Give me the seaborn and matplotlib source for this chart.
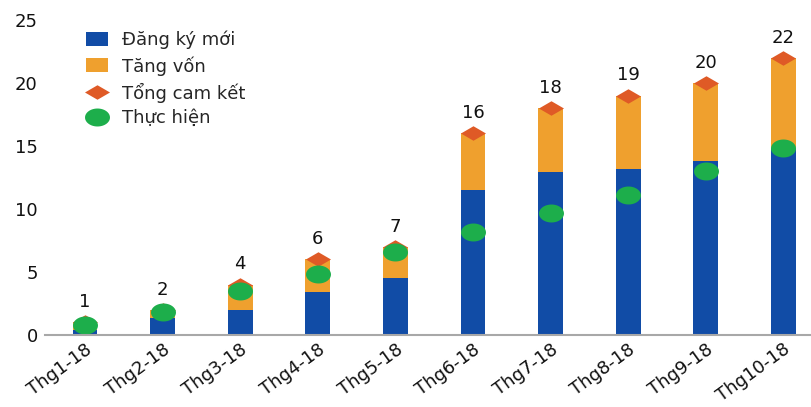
import numpy as np
import pandas as pd
import matplotlib
matplotlib.use("Agg")
import matplotlib.pyplot as plt
import seaborn as sns
from matplotlib.lines import Line2D
from matplotlib.patches import Patch

# Monthly FDI figures, 2018 (billion USD)
months = ["Thg1-18", "Thg2-18", "Thg3-18", "Thg4-18", "Thg5-18",
          "Thg6-18", "Thg7-18", "Thg8-18", "Thg9-18", "Thg10-18"]
new_reg = [0.4, 1.35, 2.0, 3.4, 4.5, 11.5, 12.9, 13.2, 13.8, 14.8]
total_commit = [1, 2, 4, 6, 7, 16, 18, 19, 20, 22]
disbursed = [0.8, 1.8, 3.5, 4.8, 6.6, 8.2, 9.7, 11.1, 13.0, 14.8]
yticks = [0, 5, 10, 15, 20, 25]

BLUE = "#114CA6"
ORANGE = "#EFA02E"
RED = "#DF5A26"
GREEN = "#1DAE4B"

sns.set_theme(style="white")
plt.rcParams["font.family"] = ["DejaVu Sans"]

df = pd.DataFrame({"month": months, "new": new_reg, "total": total_commit,
                   "disb": disbursed})

fig = plt.figure(figsize=(8.12, 4.07), dpi=100)
ax = fig.add_axes([0.055, 0.177, 0.945, 0.774])

# Stacked look: full commitment bar in orange, new registrations on top in blue
sns.barplot(data=df, x="month", y="total", color=ORANGE, width=0.32,
            saturation=1, ax=ax, linewidth=0)
sns.barplot(data=df, x="month", y="new", color=BLUE, width=0.32,
            saturation=1, ax=ax, linewidth=0)

# Wide marker shapes
wide_diamond = [(-1, 0), (0, 0.58), (1, 0), (0, -0.58), (-1, 0)]
t = np.linspace(0, 2 * np.pi, 40)
wide_dot = np.column_stack([np.cos(t), 0.72 * np.sin(t)])

pos = np.arange(len(months))
ax.plot(pos, df["total"], linestyle="none", marker=wide_diamond,
        markersize=18, color=RED, markeredgewidth=0)
ax.plot(pos, df["disb"], linestyle="none", marker=wide_dot, markersize=18,
        color=GREEN, markeredgewidth=0)

for x, v in zip(pos, df["total"]):
    ax.annotate(f"{v:g}", (x, v), xytext=(0, 8), textcoords="offset points",
                ha="center", va="bottom", fontsize=13, color="#111111")

ax.set_ylim(0, 25)
ax.set_xlim(-0.52, 9.37)
ax.set_yticks(yticks)
ax.set_yticklabels([str(t) for t in yticks], fontsize=13, color="#111111")
ax.set_xlabel("")
ax.set_ylabel("")
ax.tick_params(axis="y", length=0, pad=5)
ax.tick_params(axis="x", length=0, pad=4)
plt.setp(ax.get_xticklabels(), rotation=36, ha="right",
         rotation_mode="anchor", fontsize=13, color="#111111")

for s in ["top", "right", "left"]:
    ax.spines[s].set_visible(False)
ax.spines["bottom"].set_color("#A8A8A8")
ax.spines["bottom"].set_linewidth(1.5)

handles = [
    Patch(facecolor=BLUE, edgecolor="none", label="Đăng ký mới"),
    Patch(facecolor=ORANGE, edgecolor="none", label="Tăng vốn"),
    Line2D([], [], linestyle="none", marker=wide_diamond, markersize=18,
           color=RED, markeredgewidth=0, label="Tổng cam kết"),
    Line2D([], [], linestyle="none", marker=wide_dot, markersize=18,
           color=GREEN, markeredgewidth=0, label="Thực hiện"),
]
ax.legend(handles=handles, loc="upper left", bbox_to_anchor=(0.04, 1.0),
          frameon=False, fontsize=13, handlelength=1.2, handleheight=0.8,
          handletextpad=0.8, labelspacing=0.38, borderaxespad=0.2)

fig.savefig("out.png", dpi=100)
